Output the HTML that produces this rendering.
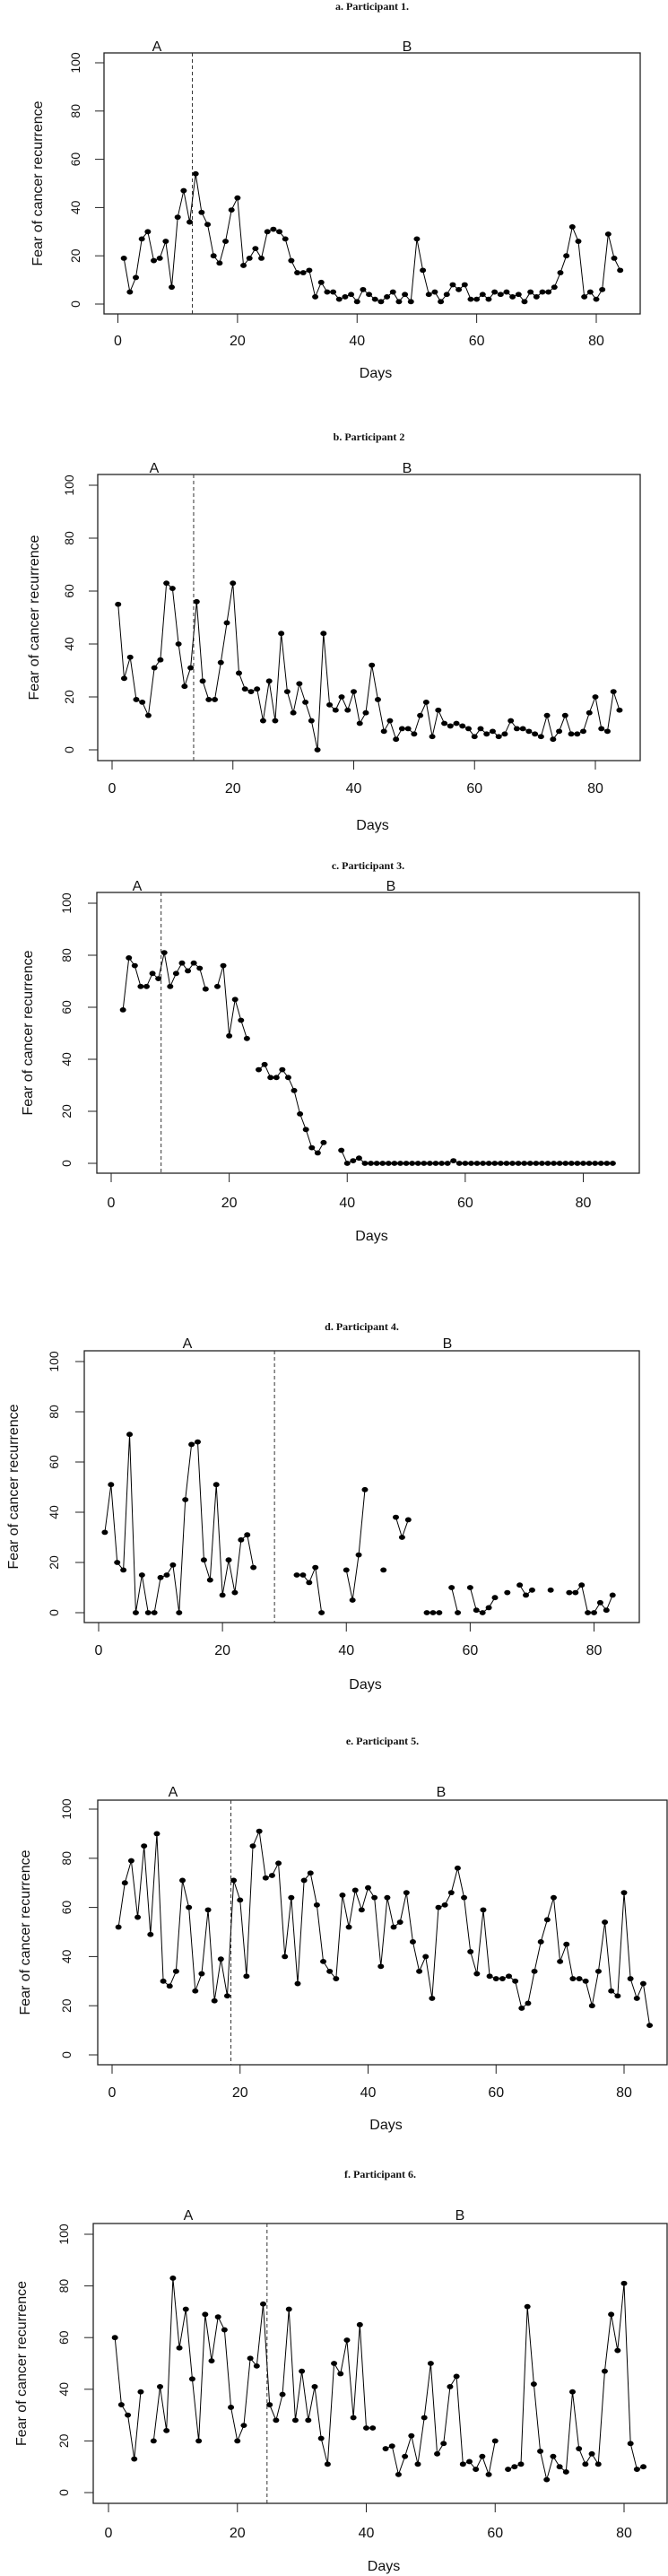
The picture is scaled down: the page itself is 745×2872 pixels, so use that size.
<!DOCTYPE html>
<html><head><meta charset="utf-8">
<style>
html,body{margin:0;padding:0;background:#fff;}
svg{display:block;}
text{font-family:"Liberation Sans",Arial,sans-serif;fill:#111;}
.ttl{font-family:"Liberation Serif",serif;font-weight:bold;font-size:12px;}
</style></head>
<body>
<svg id="fig" width="745" height="2872" viewBox="0 0 745 2872" xmlns="http://www.w3.org/2000/svg"></svg>
<script>
const xTicks = [0, 20, 40, 60, 80];
const yTicks = [0, 20, 40, 60, 80, 100];
const titles = ["a. Participant 1.", "b. Participant 2", "c. Participant 3.", "d. Participant 4.", "e. Participant 5.", "f. Participant 6."];
const phaseChange = [12.45, 13.5, 8.46, 28.4, 18.57, 24.6];
const p1Values = [19,5,11,27,30,18,19,26,7,36,47,34,54,38,33,20,17,26,39,44,16,19,23,19,30,31,30,27,18,13,13,14,3,9,5,5,2,3,4,1,6,4,2,1,3,5,1,4,1,27,14,4,5,1,4,8,6,8,2,2,4,2,5,4,5,3,4,1,5,3,5,5,7,13,20,32,26,3,5,2,6,29,19,14];
const p2Values = [55,27,35,19,18,13,31,34,63,61,40,24,31,56,26,19,19,33,48,63,29,23,22,23,11,26,11,44,22,14,25,18,11,0,44,17,15,20,15,22,10,14,32,19,7,11,4,8,8,6,13,18,5,15,10,9,10,9,8,5,8,6,7,5,6,11,8,8,7,6,5,13,4,7,13,6,6,7,14,20,8,7,22,15];
const p3Values = [null,59,79,76,68,68,73,71,81,68,73,77,74,77,75,67,null,68,76,49,63,55,48,null,36,38,33,33,36,33,28,19,13,6,4,8,null,null,5,0,1,2,0,0,0,0,0,0,0,0,0,0,0,0,0,0,0,1,0,0,0,0,0,0,0,0,0,0,0,0,0,0,0,0,0,0,0,0,0,0,0,0,0,0,0];
const p4Values = [32,51,20,17,71,0,15,0,0,14,15,19,0,45,67,68,21,13,51,7,21,8,29,31,18,null,null,null,null,null,null,15,15,12,18,0,null,null,null,17,5,23,49,null,null,17,null,38,30,37,null,null,0,0,0,null,10,0,null,10,1,0,2,6,null,8,null,11,7,9,null,null,9,null,null,8,8,11,0,0,4,1,7];
const p5Values = [52,70,79,56,85,49,90,30,28,34,71,60,26,33,59,22,39,24,71,63,32,85,91,72,73,78,40,64,29,71,74,61,38,34,31,65,52,67,59,68,64,36,64,52,54,66,46,34,40,23,60,61,66,76,64,42,33,59,32,31,31,32,30,19,21,34,46,55,64,38,45,31,31,30,20,34,54,26,24,66,31,23,29,12];
const p6Values = [60,34,30,13,39,null,20,41,24,83,56,71,44,20,69,51,68,63,33,20,26,52,49,73,34,28,38,71,28,47,28,41,21,11,50,46,59,29,65,25,25,null,17,18,7,14,22,11,29,50,15,19,41,45,11,12,9,14,7,20,null,9,10,11,72,42,16,5,14,10,8,39,17,11,15,11,47,69,55,81,19,9,10];
const seriesList = [p1Values, p2Values, p3Values, p4Values, p5Values, p6Values];

// layout (pixel geometry only)
const layouts = [
 {title:7, box:[116,59,714,350], x0:131.5, x80:665, y0:339, y100:70, abY:51, aX:175, bX:454, yTitleX:41, yTickX:84, xLabY:379, daysY:415},
 {title:487, box:[109,529,714,848], x0:125, x80:664, y0:836, y100:541, abY:521, aX:172, bX:454, yTitleX:37, yTickX:77, xLabY:878, daysY:919},
 {title:965, box:[108,995,713,1308], x0:124, x80:650.5, y0:1297, y100:1007, abY:987, aX:153, bX:436, yTitleX:30, yTickX:74, xLabY:1340, daysY:1377},
 {title:1479, box:[94,1506,713,1809], x0:110, x80:662.5, y0:1798, y100:1518, abY:1497, aX:209, bX:499, yTitleX:14, yTickX:60, xLabY:1839, daysY:1877},
 {title:1941, box:[109,2007,744,2302], x0:125, x80:696, y0:2291, y100:2017, abY:1997, aX:193, bX:492, yTitleX:27, yTickX:74, xLabY:2332, daysY:2368},
 {title:2424, box:[104,2479,744,2791], x0:121, x80:696, y0:2779, y100:2491, abY:2469, aX:210, bX:513, yTitleX:23, yTickX:71, xLabY:2823, daysY:2860}
];
const NS = "http://www.w3.org/2000/svg";
const svg = document.getElementById('fig');
function mk(tag, parent, attrs){const e=document.createElementNS(NS,tag);for(const k in attrs)e.setAttribute(k,attrs[k]);parent.appendChild(e);return e;}

seriesList.forEach((vals, pi) => {
  const L = layouts[pi];
  const xs = d => L.x0 + (L.x80 - L.x0) * d / 80;
  const ys = v => L.y0 - (L.y0 - L.y100) * v / 100;
  const g = mk('g', svg, {});
  
  
  const t = mk('text', g, {x:(L.box[0]+L.box[2])/2, y:L.title+4, 'text-anchor':'middle', class:'ttl'});
  t.textContent = titles[pi];
  
  
  const box = mk('rect', g, {x:L.box[0], y:L.box[1], width:L.box[2]-L.box[0], height:L.box[3]-L.box[1], fill:'none', stroke:'#222', 'stroke-width':1.3});
  
  
  // x axis
  xTicks.forEach(v => {
    const tk = mk('line', g, {x1:xs(v), x2:xs(v), y1:L.box[3], y2:L.box[3]+10, stroke:'#222', 'stroke-width':1});
    
    
    const tl = mk('text', g, {x:xs(v), y:L.xLabY+6, 'text-anchor':'middle', 'font-size':16});
    tl.textContent = v;
    
    
  });
  const xa = mk('line', g, {x1:xs(0), x2:xs(80), y1:L.box[3], y2:L.box[3], stroke:'#222', 'stroke-width':1});
  
  
  yTicks.forEach(v => {
    const tk = mk('line', g, {x1:L.box[0]-10, x2:L.box[0], y1:ys(v), y2:ys(v), stroke:'#222', 'stroke-width':1});
    
    
    const tl = mk('text', g, {x:0, y:0, 'text-anchor':'middle', 'font-size':14, transform:`translate(${L.yTickX+5},${ys(v)}) rotate(-90)`});
    tl.textContent = v;
    
    
  });
  const yt = mk('text', g, {x:0, y:0, 'text-anchor':'middle', 'font-size':16, transform:`translate(${L.yTitleX+6},${(L.box[1]+L.box[3])/2}) rotate(-90)`});
  yt.textContent = 'Fear of cancer recurrence';
  
  
  const xt = mk('text', g, {x:(L.box[0]+L.box[2])/2+4, y:L.daysY+6, 'text-anchor':'middle', 'font-size':16});
  xt.textContent = 'Days';
  
  
  const a = mk('text', g, {x:L.aX, y:L.abY+6, 'text-anchor':'middle', 'font-size':16});
  a.textContent = 'A';
  
  
  const b = mk('text', g, {x:L.bX, y:L.abY+6, 'text-anchor':'middle', 'font-size':16});
  b.textContent = 'B';
  
  
  const dl = mk('line', g, {x1:xs(phaseChange[pi]), x2:xs(phaseChange[pi]), y1:L.box[1], y2:L.box[3], stroke:'#333', 'stroke-width':1, 'stroke-dasharray':'4,3'});
  
  
  // line segments
  let d = '';
  vals.forEach((v, i) => {
    if (v === null) return;
    const prev = i > 0 ? vals[i-1] : null;
    d += (prev === null ? 'M' : 'L') + xs(i+1).toFixed(2) + ' ' + ys(v).toFixed(2) + ' ';
  });
  const ln = mk('path', g, {d:d, fill:'none', stroke:'#000', 'stroke-width':1});
  
  
  vals.forEach((v, i) => {
    if (v === null) return;
    const c = mk('ellipse', g, {cx:xs(i+1), cy:ys(v), rx:3.5, ry:2.9, fill:'#000'});
    
    
  });
});
</script>
</body></html>
